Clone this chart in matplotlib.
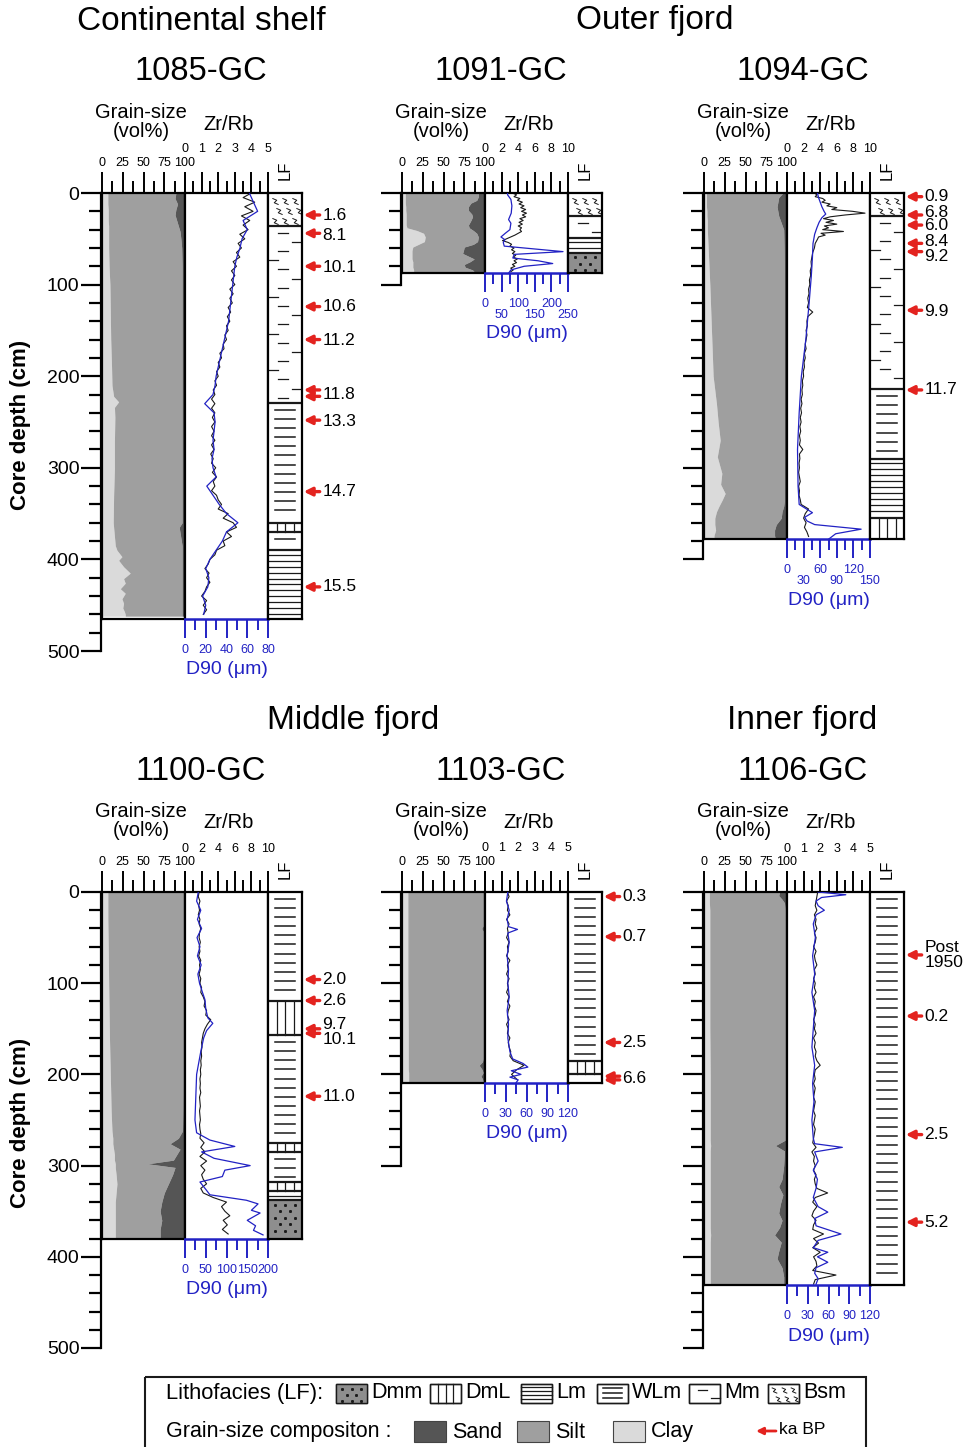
import numpy as np
import matplotlib
matplotlib.use('Agg')
import matplotlib.pyplot as plt
from matplotlib.patches import Rectangle
from matplotlib.ticker import MultipleLocator, FixedLocator

plt.rcParams['font.family'] = ['Liberation Sans', 'DejaVu Sans']

W, H = 964, 1447
CLAY, SILT, SAND = '#dadada', '#9f9f9f', '#555555'
BLUE, RED, INK = '#2222c4', '#e3231f', '#1a1a1a'

# ---------------- data ----------------
# grain size: depth (cm), clay %, sand %  (silt = the rest)
gs_depth_1085 = [0, 6, 12, 18, 24, 30, 36, 42, 50, 60, 80, 100, 130, 160, 190, 210, 222, 228, 234, 245,
                 270, 300, 330, 360, 365, 385, 390, 397, 401, 408, 415, 421, 426, 432, 437, 443, 448, 453, 457, 460, 462]
clay_1085 = [7, 7, 7, 7.5, 7.5, 7.5, 8, 8, 8, 8, 8.5, 9.5, 10, 10.5, 11.5, 12, 14, 20, 15, 15.5,
             15, 15, 14, 13.5, 14, 16, 18, 24, 20, 26, 34, 26, 28, 22, 28, 24, 26, 25, 27, 28, 28]
sand_1085 = [11, 12, 9, 11, 12, 10, 8, 6, 5, 4, 3.5, 3.5, 3.5, 3.5, 3.5, 3.5, 3.5, 3.5, 3.5, 3.5,
             3.5, 3.5, 3.5, 3.5, 7, 3.5, 3.5, 3.5, 3.5, 3.5, 3.5, 3.5, 3.5, 3.5, 3.5, 3.5, 3.5, 3.5, 3.5, 3.5, 3.5]

gs_depth_1091 = [0, 4, 8, 11, 15, 19, 23, 26, 30, 35, 38, 41, 44, 48, 53, 56, 59, 63, 66, 69, 72, 75, 78, 81, 84, 87]
clay_1091 = [4, 4, 4, 4, 4.5, 4.5, 5, 5, 5, 5, 6, 18, 26, 28, 27, 20, 13, 12, 12, 12, 12, 13, 13, 13, 14, 14]
sand_1091 = [8, 8, 10, 17, 20, 20, 16, 15, 17, 20, 19, 14, 10, 8, 9, 14, 25, 26, 27, 20, 13, 18, 25, 24, 15, 12]

gs_depth_1094 = [0, 5, 10, 15, 20, 25, 30, 35, 40, 60, 100, 150, 200, 230, 250, 270, 288, 306, 318, 328,
                 335, 342, 348, 355, 362, 368, 374, 378]
clay_1094 = [3, 3, 3, 3, 3.5, 3.5, 4, 4, 4, 5, 7, 9, 11, 15, 17, 19.5, 16, 21.5, 20, 25.5, 22, 18, 15, 13, 13, 14, 12, 12]
sand_1094 = [5, 10, 11, 12, 11, 10, 8, 6, 4, 3.5, 3, 3, 3, 3, 3, 3, 3, 3, 3, 3, 3, 4, 6, 7, 13, 15, 15, 14]

gs_depth_1100 = [0, 30, 60, 100, 130, 160, 200, 240, 262, 270, 276, 282, 288, 294, 298, 302, 310, 320, 330, 340,
                 350, 360, 370, 380]
clay_1100 = [7, 7, 7.5, 8, 8.5, 9, 10, 11, 12, 13, 13, 14, 15, 15, 16, 16, 17, 18, 17, 16, 16, 16, 16, 16]
sand_1100 = [1.5, 1.5, 1.5, 1.5, 2, 2, 2, 2.5, 3, 8, 18, 6, 10, 14, 45, 12, 15, 20, 25, 28, 30, 28, 30, 30]

gs_depth_1103 = [0, 20, 36, 40, 44, 60, 100, 150, 180, 186, 190, 194, 198, 202, 205, 209]
clay_1103 = [7, 7, 7, 7, 7, 7, 7, 7.5, 7.5, 7.5, 7.5, 7.5, 8, 8, 8, 8]
sand_1103 = [1.5, 1.5, 1.5, 4, 1.5, 1.5, 1.5, 1.5, 1.5, 3, 7, 4, 2, 5, 3, 2]

gs_depth_1106 = [0, 4, 8, 12, 20, 50, 100, 150, 200, 250, 272, 278, 284, 300, 315, 323, 332, 342, 352, 360,
                 368, 376, 384, 394, 402, 412, 422, 431]
clay_1106 = [6.5, 6.5, 6.5, 6.5, 7, 7, 7, 7, 7.5, 7.5, 7.5, 8, 7.5, 7.5, 7.5, 7.5, 7.5, 7.5, 7.5, 7.5,
             7.5, 8, 7.5, 7.5, 7.5, 7.5, 7.5, 7.5]
sand_1106 = [9, 10, 6, 3, 2, 1.5, 1.5, 1.5, 2, 2, 2, 14, 3, 4, 6, 10, 5, 8, 10, 6, 9, 15, 7, 10, 12, 6, 4, 4]

# Zr/Rb ratio (black curve)
zr_depth_1085 = list(range(0, 461, 5))
zr_1085 = [4.0, 3.5, 4.2, 3.6, 4.1, 3.4, 3.9, 3.5, 3.8, 3.3,
           3.6, 3.2, 3.4, 3.1, 3.3, 2.9, 3.1, 2.8, 3.0, 2.8,
           3.0, 2.7, 2.9, 2.7, 2.85, 2.6, 2.75, 2.55, 2.7, 2.5,
           2.6, 2.4, 2.5, 2.3, 2.35, 2.1, 2.2, 2.0, 2.1, 1.9,
           2.0, 1.8, 1.9, 1.7, 1.8, 1.6, 1.8, 1.6, 1.8, 1.65,
           1.8, 1.6, 1.75, 1.6, 1.8, 1.6, 1.75, 1.55, 1.7, 1.6,
           1.85, 1.65, 1.9, 1.7, 1.8, 1.6, 1.9, 2.0, 2.2, 2.0,
           2.6, 2.3, 2.9, 3.1, 2.5, 2.8, 2.3, 2.4, 1.9, 1.8,
           1.5, 1.4, 1.2, 1.45, 1.3, 1.5, 1.3, 1.2, 1.0, 1.3,
           1.1, 1.3, 1.1]

zr_depth_1091 = list(range(0, 87, 2))
zr_1091 = [3.3, 3.8, 3.5, 4.2, 3.9, 4.5, 4.1, 4.7, 4.3, 4.9,
           4.4, 5.0, 4.5, 4.9, 4.2, 4.6, 4.1, 4.5, 4.0, 4.4,
           4.2, 4.4, 4.0, 3.6, 3.1, 2.6, 2.1, 2.8, 3.2, 3.0,
           3.5, 3.2, 3.6, 3.3, 3.7, 3.4, 3.9, 3.5, 3.8, 3.3,
           3.6, 3.1, 3.4, 3.1]

zr_depth_1094 = list(range(0, 50, 2)) + list(range(50, 380, 5))
zr_1094 = [3.3, 3.6, 3.4, 4.3, 4.6, 4.2, 5.2, 4.8, 6.0, 5.4,
           7.9, 9.4, 7.0, 5.2, 4.4, 5.6, 4.7, 6.0, 4.5, 5.0,
           4.3, 6.8, 4.1, 4.6, 3.8,
           3.7, 3.4, 3.3, 3.1, 3.0, 2.9, 2.95, 2.8, 2.85, 2.7,
           2.75, 2.6, 2.65, 2.5, 2.6, 2.45, 3.1, 2.5, 2.4, 2.45,
           2.3, 2.4, 2.3, 2.2, 2.3, 2.1, 2.2, 2.05, 2.1, 1.95,
           2.0, 1.85, 1.9, 1.8, 1.85, 1.7, 1.8, 1.65, 1.75, 1.6,
           1.7, 1.55, 1.65, 1.5, 1.6, 1.5, 1.9, 1.5, 1.55, 1.45,
           1.5, 1.4, 1.5, 1.6, 1.4, 1.5, 1.45, 1.6, 1.7, 2.6,
           2.2, 2.0, 2.3, 2.1, 2.4, 2.6]

zr_depth_1100 = list(range(0, 380, 5))
zr_1100 = [1.7, 1.6, 1.8, 1.65, 1.75, 1.6, 1.8, 1.7, 1.9, 1.75,
           1.7, 1.85, 1.7, 1.8, 1.65, 1.9, 1.75, 1.85, 1.7, 1.9,
           1.8, 2.0, 1.9, 2.2, 2.4, 2.3, 2.6, 2.5, 3.1, 2.7,
           2.4, 2.2, 2.1, 2.0, 2.05, 1.95, 2.0, 1.9, 1.95, 1.85,
           1.9, 1.8, 1.85, 1.8, 1.9, 1.75, 1.8, 1.85, 1.75, 1.8,
           1.85, 1.75, 1.8, 1.9, 1.8, 2.3, 1.9, 2.4, 1.8, 2.6,
           1.9, 2.4, 2.0, 2.2, 2.6, 1.9, 2.2, 3.4, 5.0, 4.4,
           4.8, 5.4, 4.6, 5.1, 4.5, 5.2]

zr_depth_1103 = list(range(0, 210, 5))
zr_1103 = [1.35, 1.45, 1.3, 1.4, 1.35, 1.5, 1.3, 1.45, 1.35, 1.4,
           1.3, 1.45, 1.35, 1.4, 1.3, 1.5, 1.35, 1.4, 1.3, 1.45,
           1.35, 1.4, 1.3, 1.45, 1.35, 1.5, 1.4, 1.35, 1.45, 1.3,
           1.4, 1.35, 1.5, 1.4, 1.45, 1.55, 1.5, 1.7, 2.35, 1.9,
           1.6, 1.9]

zr_depth_1106 = list(range(0, 431, 5))
zr_1106 = [1.85, 1.8, 1.75, 1.7, 1.8, 1.65, 1.75, 1.7, 1.8, 1.65,
           1.75, 1.7, 1.6, 1.75, 1.65, 1.7, 1.8, 1.65, 1.7, 1.6,
           1.7, 1.65, 1.75, 1.6, 1.7, 1.65, 1.75, 1.7, 1.6, 1.7,
           1.65, 1.75, 1.6, 1.7, 1.65, 1.75, 1.7, 1.8, 2.0, 1.7,
           1.65, 1.7, 1.6, 1.7, 1.65, 1.6, 1.7, 1.65, 1.6, 1.7,
           1.65, 1.6, 1.7, 1.65, 1.6, 1.55, 1.75, 1.5, 1.65, 1.6,
           1.7, 1.6, 1.75, 1.65, 1.7, 1.8, 2.45, 1.7, 1.55, 1.8,
           1.6, 1.5, 1.75, 1.6, 1.55, 2.2, 1.6, 1.9, 1.55, 2.0,
           1.6, 1.75, 1.8, 1.55, 2.95, 1.7, 1.6]

# D90 (um, blue curve)
d90_depth_1085 = list(range(0, 461, 10))
d90_1085 = [62, 66, 70, 56, 60, 55, 53, 50, 48, 47,
            46, 45, 44, 43, 42, 40, 38, 36, 34, 32,
            30, 29, 27, 19, 28, 29, 28, 27, 28, 26,
            27, 30, 21, 27, 33, 40, 51, 40, 36, 30,
            24, 20, 23, 22, 17, 20, 18]

d90_depth_1091 = [0, 2, 7, 14, 22, 29, 33, 40, 44, 48, 51, 54, 58, 64, 67, 71, 74, 77, 80, 84, 87]
d90_1091 = [68, 68, 78, 81, 79, 71, 78, 75, 61, 48, 60, 55, 58, 235, 88, 84, 160, 204, 118, 78, 72]

d90_depth_1094 = [0, 5, 10, 15, 20, 23, 27, 32, 38, 45, 55, 70, 90, 120, 160, 200, 240, 280, 320, 340,
                  349, 354, 358, 362, 367, 372, 378]
d90_1094 = [55, 57, 60, 63, 67, 70, 63, 58, 54, 50, 47, 46, 44, 40, 34, 26, 22, 19, 20, 22,
            46, 32, 36, 50, 134, 88, 75]

d90_depth_1100 = [0, 10, 20, 30, 40, 50, 60, 70, 80, 90, 100, 110, 118, 128, 138, 144, 152, 160, 175, 200,
                  225, 250, 264, 272, 279, 285, 292, 300, 305, 312, 318, 326, 332, 338, 342, 349, 352, 360,
                  366, 371, 376]
d90_1100 = [32, 28, 38, 30, 40, 29, 36, 30, 39, 31, 35, 42, 48, 50, 55, 67, 52, 45, 38, 28,
            26, 24, 28, 60, 120, 40, 70, 157, 96, 90, 36, 50, 60, 148, 176, 160, 181, 150,
            170, 165, 188]

d90_depth_1103 = [0, 10, 20, 30, 38, 41, 45, 55, 70, 85, 100, 115, 130, 145, 160, 175, 183, 188, 192, 196,
                  200, 203, 206, 209]
d90_1103 = [33, 31, 35, 32, 34, 47, 33, 35, 32, 34, 33, 35, 32, 34, 33, 36, 40, 55, 62, 38,
            52, 36, 48, 45]

d90_depth_1106 = [0, 3, 6, 10, 15, 20, 25, 35, 50, 70, 90, 110, 130, 150, 170, 190, 210, 230, 250, 270,
                  276, 280, 285, 295, 305, 315, 325, 335, 345, 351, 358, 366, 375, 382, 390, 395, 400, 406,
                  412, 418, 424, 430]
d90_1106 = [45, 85, 50, 42, 45, 54, 42, 38, 41, 37, 40, 36, 40, 38, 36, 40, 37, 39, 36, 38,
            40, 80, 40, 45, 38, 44, 42, 38, 45, 59, 40, 42, 78, 45, 38, 59, 44, 59,
            42, 40, 45, 42]

# lithofacies intervals (top cm, bottom cm, code)
lf_1085 = [(0, 36, 'Bsm'), (36, 229, 'Mm'), (229, 360, 'WLm'), (360, 370, 'DmL'), (370, 390, 'WLm'), (390, 465, 'Lm')]
lf_1091 = [(0, 25, 'Bsm'), (25, 49, 'Mm'), (49, 65, 'Lm'), (65, 87, 'Dmm')]
lf_1094 = [(0, 25, 'Bsm'), (25, 214, 'Mm'), (214, 290, 'WLm'), (290, 355, 'Lm'), (355, 378, 'DmL')]
lf_1100 = [(0, 119, 'WLm'), (119, 157, 'DmL'), (157, 275, 'WLm'), (275, 285, 'DmL'), (285, 318, 'WLm'),
           (318, 328, 'DmL'), (328, 338, 'Lm'), (338, 380, 'Dmm')]
lf_1103 = [(0, 185, 'WLm'), (185, 200, 'DmL'), (200, 209, 'WLm')]
lf_1106 = [(0, 431, 'WLm')]

# ages, ka BP: (arrow depth, label, label depth)
ka_1085 = [(24, '1.6', 25), (44, '8.1', 46), (80, '10.1', 81), (124, '10.6', 124), (160, '11.2', 161),
           (215, '', 220), (222, '11.8', 220), (248, '13.3', 249), (326, '14.7', 326), (430, '15.5', 430)]
ka_1091 = []
ka_1094 = [(4, '0.9', 4), (24, '6.8', 21), (35, '6.0', 36), (55, '8.4', 53), (64, '9.2', 69),
           (128, '9.9', 129), (215, '11.7', 215)]
ka_1100 = [(96, '2.0', 96), (119, '2.6', 119), (150, '9.7', 145), (155, '10.1', 162), (224, '11.0', 224)]
ka_1103 = [(5, '0.3', 5), (49, '0.7', 49), (165, '2.5', 165), (202, '', 204), (206, '6.6', 204)]
ka_1106 = [(69, 'Post\n1950', 69), (136, '0.2', 136), (266, '2.5', 266), (362, '5.2', 362)]

CORES = [
    dict(name='1085-GC', x=102, top=193, s=0.916, L=465, amax=500, lab=True, zmax=5, zmaj=1,
         dmax=80, dmaj=20, dmin=10, stag=False, gs=(gs_depth_1085, clay_1085, sand_1085),
         zr=(zr_depth_1085, zr_1085), d90=(d90_depth_1085, d90_1085), lf=lf_1085, ka=ka_1085),
    dict(name='1091-GC', x=402, top=193, s=0.916, L=87, amax=100, lab=False, zmax=10, zmaj=2,
         dmax=250, dmaj=50, dmin=25, stag=True, gs=(gs_depth_1091, clay_1091, sand_1091),
         zr=(zr_depth_1091, zr_1091), d90=(d90_depth_1091, d90_1091), lf=lf_1091, ka=ka_1091),
    dict(name='1094-GC', x=704, top=193, s=0.916, L=378, amax=400, lab=False, zmax=10, zmaj=2,
         dmax=150, dmaj=30, dmin=15, stag=True, gs=(gs_depth_1094, clay_1094, sand_1094),
         zr=(zr_depth_1094, zr_1094), d90=(d90_depth_1094, d90_1094), lf=lf_1094, ka=ka_1094),
    dict(name='1100-GC', x=102, top=892, s=0.912, L=380, amax=500, lab=True, zmax=10, zmaj=2,
         dmax=200, dmaj=50, dmin=25, stag=False, gs=(gs_depth_1100, clay_1100, sand_1100),
         zr=(zr_depth_1100, zr_1100), d90=(d90_depth_1100, d90_1100), lf=lf_1100, ka=ka_1100),
    dict(name='1103-GC', x=402, top=892, s=0.912, L=209, amax=300, lab=False, zmax=5, zmaj=1,
         dmax=120, dmaj=30, dmin=15, stag=False, gs=(gs_depth_1103, clay_1103, sand_1103),
         zr=(zr_depth_1103, zr_1103), d90=(d90_depth_1103, d90_1103), lf=lf_1103, ka=ka_1103),
    dict(name='1106-GC', x=704, top=892, s=0.912, L=431, amax=500, lab=False, zmax=5, zmaj=1,
         dmax=120, dmaj=30, dmin=15, stag=False, gs=(gs_depth_1106, clay_1106, sand_1106),
         zr=(zr_depth_1106, zr_1106), d90=(d90_depth_1106, d90_1106), lf=lf_1106, ka=ka_1106),
]

STEP = {'Bsm': 11, 'Mm': 10, 'WLm': 10, 'Lm': 6.5, 'DmL': 10, 'Dmm': 7}
ZIG = [(-0.5, 0.5), (0.2, 0.2), (-0.2, -0.2), (0.5, -0.5)]

fig = plt.figure(figsize=(W / 100, H / 100), dpi=100)


def box(x, y, w, h):
    return [x / W, 1 - (y + h) / H, w / W, h / H]


def put(x, y, s, **kw):
    kw.setdefault('ha', 'center')
    kw.setdefault('va', 'center')
    fig.text(x / W, 1 - y / H, s, **kw)


def facies(ax, kind, x0, x1, top, bot, step, lw=0.9, ms=4.5):
    w = x1 - x0
    rows = np.arange(top + step * 0.75, bot - step * 0.35, step)
    if kind == 'Dmm':
        ax.add_patch(Rectangle((x0, top), w, bot - top, fc='#8e8e8e', ec='none'))
        for i, yy in enumerate(rows):
            fr = [0.2, 0.5, 0.8] if i % 2 == 0 else [0.35, 0.65]
            ax.plot([x0 + f * w for f in fr], [yy] * len(fr), ls='none', marker='s', ms=1.1, color=INK)
    elif kind == 'DmL':
        for f in (0.25, 0.5, 0.75):
            ax.plot([x0 + f * w] * 2, [top, bot], color=INK, lw=lw)
    elif kind == 'Lm':
        for yy in rows:
            ax.plot([x0, x1], [yy, yy], color=INK, lw=lw)
    elif kind == 'WLm':
        for yy in rows:
            ax.plot([x0 + 0.2 * w, x0 + 0.8 * w], [yy, yy], color=INK, lw=lw + 0.2)
    elif kind == 'Mm':
        seq = [(0.3, 0.58), (0.72, 1.0), (0.3, 0.6), (0.0, 0.28)]
        for i, yy in enumerate(rows):
            a, b = seq[i % 4]
            ax.plot([x0 + a * w, x0 + b * w], [yy, yy], color=INK, lw=lw)
    elif kind == 'Bsm':
        for i, yy in enumerate(rows):
            fr = [0.2, 0.5, 0.8] if i % 2 == 0 else [0.32, 0.62, 0.9]
            ax.plot([x0 + f * w for f in fr], [yy] * 3, ls='none', marker=ZIG, ms=ms,
                    mfc='none', mec=INK, mew=0.7)


def draw_core(c):
    x, top, s, L = c['x'], c['top'], c['s'], c['L']
    h = L * s
    bottom = top + h

    # depth axis
    axd = fig.add_axes(box(x - 1, top, 1, c['amax'] * s))
    axd.set_xlim(0, 1)
    axd.set_ylim(c['amax'], 0)
    axd.patch.set_visible(False)
    for sp in ('top', 'right', 'bottom'):
        axd.spines[sp].set_visible(False)
    axd.spines['left'].set_linewidth(1.6)
    axd.set_xticks([])
    axd.yaxis.set_major_locator(MultipleLocator(100))
    axd.yaxis.set_minor_locator(MultipleLocator(20))
    axd.tick_params(axis='y', which='major', length=14.5, width=1.6, labelsize=14, pad=1,
                    labelleft=c['lab'])
    axd.tick_params(axis='y', which='minor', length=9, width=1.6)

    # grain size column
    gd, clay, sand = (np.array(v, dtype=float) for v in c['gs'])
    axg = fig.add_axes(box(x, top, 83, h))
    axg.fill_betweenx(gd, 0, clay, color=CLAY, lw=0)
    axg.fill_betweenx(gd, clay, 100 - sand, color=SILT, lw=0)
    axg.fill_betweenx(gd, 100 - sand, 100, color=SAND, lw=0)
    axg.set_xlim(0, 100)
    axg.set_ylim(L, 0)
    axg.xaxis.tick_top()
    axg.set_xticks([0, 25, 50, 75, 100])
    axg.xaxis.set_minor_locator(MultipleLocator(12.5))
    axg.tick_params(axis='x', which='major', length=15, width=1.4, labelsize=9, pad=2)
    axg.tick_params(axis='x', which='minor', length=9, width=1.4)
    axg.set_yticks([])
    for sp in axg.spines.values():
        sp.set_linewidth(1.6)

    # Zr/Rb + D90 column
    axz = fig.add_axes(box(x + 83, top, 83, h))
    axb = axz.twiny()
    axz.plot(c['zr'][1], c['zr'][0], color=INK, lw=0.8)
    axz.set_xlim(0, c['zmax'])
    axz.xaxis.set_ticks_position('top')
    axz.xaxis.set_label_position('top')
    axz.xaxis.set_major_locator(MultipleLocator(c['zmaj']))
    axz.xaxis.set_minor_locator(MultipleLocator(c['zmaj'] / 2))
    axz.tick_params(axis='x', which='both', top=True, bottom=False, labeltop=True, labelbottom=False)
    axz.tick_params(axis='x', which='major', length=15, width=1.4, labelsize=9, pad=12)
    axz.tick_params(axis='x', which='minor', length=9, width=1.4)
    axz.set_yticks([])
    for sp in axz.spines.values():
        sp.set_linewidth(1.6)
    axz.spines['bottom'].set_visible(False)

    axb.plot(c['d90'][1], c['d90'][0], color=BLUE, lw=0.9)
    axb.set_xlim(0, c['dmax'])
    axb.xaxis.set_ticks_position('bottom')
    axb.xaxis.set_label_position('bottom')
    majors = list(range(0, c['dmax'] + 1, c['dmaj']))
    axb.xaxis.set_major_locator(FixedLocator(majors))
    axb.xaxis.set_minor_locator(MultipleLocator(c['dmin']))
    if c['stag']:
        # staggered labels: odd ones go on a second row
        axb.set_xticklabels([str(v) if i % 2 == 0 else '' for i, v in enumerate(majors)])
        for v in majors[1::2]:
            axb.annotate(str(v), xy=(v, 0), xycoords=('data', 'axes fraction'), xytext=(0, -26),
                         textcoords='offset points', ha='center', va='top', color=BLUE, fontsize=9,
                         annotation_clip=False)
    axb.tick_params(axis='x', which='both', top=False, bottom=True, labeltop=False, labelbottom=True,
                    colors=BLUE, labelcolor=BLUE, width=1.4)
    axb.tick_params(axis='x', which='major', length=14, labelsize=9, pad=4)
    axb.tick_params(axis='x', which='minor', length=8)
    for sp in ('top', 'left', 'right'):
        axb.spines[sp].set_visible(False)
    axb.spines['bottom'].set_color(BLUE)
    axb.spines['bottom'].set_linewidth(1.8)
    axz.set_ylim(L, 0)

    # lithofacies column
    axl = fig.add_axes(box(x + 166, top, 34, h))
    axl.set_xlim(0, 1)
    axl.set_ylim(L, 0)
    axl.set_xticks([])
    axl.set_yticks([])
    for sp in axl.spines.values():
        sp.set_linewidth(1.6)
    for i, (t, b, kind) in enumerate(c['lf']):
        facies(axl, kind, 0, 1, t, b, STEP[kind])
        if i:
            axl.axhline(t, color=INK, lw=1.6)
    for d, lab, ld in c['ka']:
        axl.annotate('', xy=(1.05, d), xytext=(1.52, d), xycoords='data',
                     arrowprops=dict(arrowstyle='-|>', color=RED, lw=2.4, mutation_scale=12,
                                     shrinkA=0, shrinkB=0), annotation_clip=False)
        axl.text(1.6, ld, lab, ha='left', va='center', fontsize=12.5, clip_on=False, linespacing=1.0)

    # column headings
    put(x + 39, top - 71, 'Grain-size\n(vol%)', fontsize=14.5, linespacing=1.0)
    put(x + 127, top - 69, 'Zr/Rb', fontsize=14.5)
    put(x + 183, top - 23, 'LF', rotation=90, fontsize=12)
    put(x + 124.5, bottom + (61 if c['stag'] else 51), 'D90 (μm)', color=BLUE, fontsize=14)
    put(x + 99, top - 121, c['name'], fontsize=23.5)


# legend (pixel coordinates)
ov = fig.add_axes([0, 0, 1, 1])
ov.set_xlim(0, W)
ov.set_ylim(H, 0)
ov.axis('off')
ov.add_patch(Rectangle((145, 1377), 721, 80, fc='none', ec=INK, lw=1.5))
ov.text(166, 1393, 'Lithofacies (LF):', fontsize=15.8, ha='left', va='center')
leg_lf = [(336, 'Dmm'), (430, 'DmL'), (521, 'Lm'), (597, 'WLm'), (689, 'Mm'), (768, 'Bsm')]
leg_step = {'Dmm': 6, 'DmL': 8, 'Lm': 4, 'WLm': 5, 'Mm': 8, 'Bsm': 8.5}
for bx, kind in leg_lf:
    ov.add_patch(Rectangle((bx, 1384), 31, 19, fc='white', ec=INK, lw=1.0))
    facies(ov, kind, bx, bx + 31, 1384, 1403, leg_step[kind], lw=0.9, ms=4)
    ov.add_patch(Rectangle((bx, 1384), 31, 19, fc='none', ec=INK, lw=1.0))
    ov.text(bx + 35, 1393, kind, fontsize=15.5, ha='left', va='center')
ov.text(166, 1431, 'Grain-size compositon :', fontsize=15.5, ha='left', va='center')
for bx, col, lab in [(414, SAND, 'Sand'), (517, SILT, 'Silt'), (613, CLAY, 'Clay')]:
    ov.add_patch(Rectangle((bx, 1421), 32, 21, fc=col, ec='#444444', lw=0.8))
    ov.text(bx + 38, 1432, lab, fontsize=15.5, ha='left', va='center')
ov.annotate('', xy=(756, 1431), xytext=(776, 1431),
            arrowprops=dict(arrowstyle='-|>', color=RED, lw=2.0, mutation_scale=10, shrinkA=0, shrinkB=0))
ov.text(779, 1430, 'ka BP', fontsize=12.5, ha='left', va='center')

for core in CORES:
    draw_core(core)

put(201, 22, 'Continental shelf', fontsize=24)
put(655, 20, 'Outer fjord', fontsize=24)
put(353, 720, 'Middle fjord', fontsize=24)
put(802, 720, 'Inner fjord', fontsize=24)
put(21, 425, 'Core depth (cm)', rotation=90, fontsize=16, fontweight='bold')
put(21, 1123, 'Core depth (cm)', rotation=90, fontsize=16, fontweight='bold')

fig.savefig('out.png', dpi=100)
